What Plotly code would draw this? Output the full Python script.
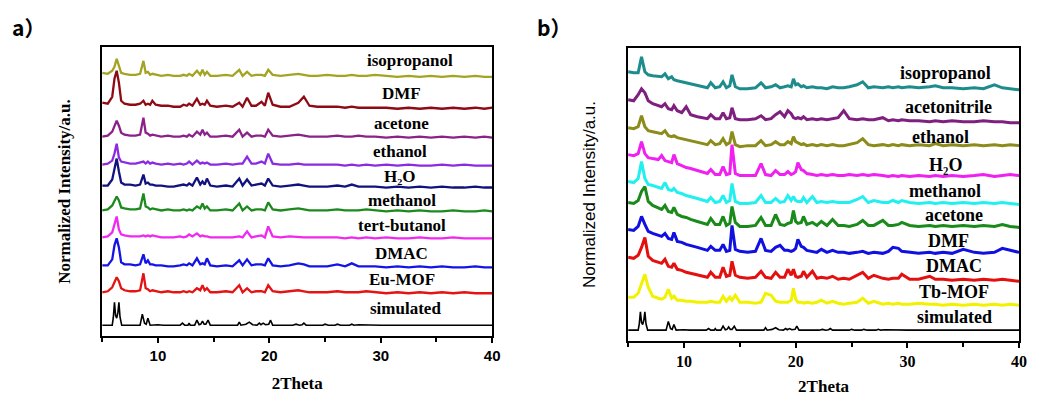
import plotly.graph_objects as go

# ---------------- DATA ----------------
# Panel a: common 2-theta grid and intensities (relative to each trace's stacking offset)
A_X = [5.0, 5.5, 5.9, 6.1, 6.3, 6.5, 6.7, 7.0, 7.5, 8.0,
       8.4, 8.7, 8.9, 9.1, 9.3, 9.5, 9.8, 10.3, 10.9, 11.4,
       12.0, 12.3, 12.6, 12.8, 13.1, 13.5, 13.8, 14.0, 14.2, 14.4,
       14.7, 15.3, 16.1, 16.7, 17.3, 17.6, 18.0, 18.4, 18.8, 19.3,
       19.6, 19.9, 20.3, 21.0, 21.8, 22.6, 23.1, 23.6, 24.3, 25.2,
       26.1, 26.8, 27.4, 28.0, 28.7, 29.5, 30.5, 31.5, 32.5, 33.5,
       34.5, 35.5, 36.5, 37.5, 38.5, 39.3, 40.0]

A_ISOPROPANOL = [4, 3, 6, 10, 18, 10, 4, 3, 2, 2,
                 3, 16, 4, 5, 2, 3, 2, 1, 2, 1,
                 1, 2, 1, 3, 1, 6, 2, 7, 2, 5,
                 1, 1, 2, 1, 7, 1, 5, 1, 2, 2,
                 1, 7, 2, 1, 2, 3, 2, 1, 1, 2,
                 1, 1, 2, 1, 1, 2, 1, 0, 1, 0,
                 1, 0, 1, 0, 1, 0, 0]
A_DMF = [6, 5, 12, 30, 38, 26, 8, 5, 4, 4,
         5, 8, 4, 5, 4, 8, 4, 3, 3, 2,
         2, 4, 3, 5, 3, 10, 4, 5, 4, 8,
         3, 2, 3, 2, 6, 2, 11, 3, 3, 7,
         3, 16, 4, 2, 2, 6, 12, 3, 2, 2,
         2, 1, 2, 1, 1, 1, 1, 0, 1, 0,
         1, 0, 1, 0, 1, 0, 1]
A_ACETONE = [1, 2, 6, 12, 17, 12, 5, 3, 2, 2,
             3, 20, 5, 4, 2, 3, 2, 1, 2, 1,
             1, 2, 1, 3, 1, 6, 3, 8, 3, 5,
             1, 1, 2, 1, 8, 1, 5, 1, 2, 2,
             1, 8, 2, 1, 2, 3, 2, 1, 1, 1,
             2, 1, 1, 2, 1, 1, 0, 1, 0, 1,
             0, 1, 0, 1, 0, 1, 0]
A_ETHANOL = [1, 2, 5, 12, 22, 8, 4, 3, 2, 2,
             3, 4, 2, 4, 2, 3, 2, 1, 2, 1,
             2, 1, 2, 4, 1, 5, 2, 3, 2, 3,
             1, 1, 2, 1, 2, 2, 9, 2, 2, 4,
             2, 12, 2, 1, 1, 2, 1, 1, 1, 1,
             1, 0, 1, 0, 1, 0, 1, 0, 1, 0,
             0, 1, 0, 1, 0, 0, 0]
A_H2O = [2, 2, 8, 20, 29, 16, 5, 3, 3, 2,
         3, 13, 4, 5, 3, 3, 2, 2, 1, 1,
         2, 3, 2, 4, 2, 10, 3, 6, 3, 9,
         2, 1, 2, 1, 9, 2, 8, 2, 3, 4,
         2, 9, 2, 1, 2, 3, 2, 1, 1, 1,
         2, 1, 3, 1, 1, 1, 0, 1, 0, 1,
         0, 1, 0, 0, 1, 0, 0]
A_METHANOL = [1, 2, 6, 11, 15, 11, 4, 3, 2, 2,
              3, 18, 5, 4, 2, 3, 2, 1, 2, 1,
              1, 2, 1, 2, 1, 5, 3, 8, 3, 5,
              1, 1, 2, 1, 8, 1, 5, 1, 2, 2,
              1, 9, 2, 1, 2, 3, 2, 1, 1, 1,
              2, 1, 1, 1, 2, 1, 0, 1, 0, 1,
              0, 0, 1, 0, 0, 1, 0]
A_TERTBUTANOL = [1, 2, 6, 14, 22, 9, 4, 3, 2, 2,
                 2, 3, 2, 3, 2, 3, 2, 1, 1, 1,
                 2, 1, 2, 4, 2, 5, 2, 3, 2, 2,
                 1, 1, 1, 1, 2, 1, 7, 1, 2, 3,
                 1, 12, 2, 1, 2, 1, 1, 1, 1, 1,
                 1, 0, 1, 0, 1, 0, 1, 0, 0, 1,
                 0, 0, 1, 0, 0, 0, 0]
A_DMAC = [2, 2, 8, 22, 29, 20, 5, 3, 3, 2,
          3, 13, 4, 7, 3, 3, 2, 2, 1, 1,
          2, 3, 2, 4, 2, 9, 3, 4, 3, 9,
          2, 1, 2, 1, 7, 2, 8, 2, 3, 3,
          2, 9, 2, 1, 2, 4, 3, 1, 1, 1,
          3, 1, 4, 1, 1, 1, 0, 1, 0, 1,
          0, 1, 0, 0, 1, 0, 0]
A_EUMOF = [1, 2, 6, 12, 16, 12, 5, 3, 2, 2,
           3, 20, 5, 4, 2, 3, 2, 1, 2, 1,
           1, 2, 1, 2, 1, 5, 3, 8, 3, 5,
           1, 1, 2, 1, 8, 1, 5, 1, 2, 2,
           1, 8, 2, 1, 2, 3, 2, 1, 1, 1,
           2, 1, 1, 1, 2, 1, 0, 1, 0, 1,
           0, 1, 0, 1, 0, 0, 0]

# Simulated pattern (shared by both panels)
SIM_X = [5.0, 5.9, 6.0, 6.1, 6.2, 6.3, 6.4, 6.5, 6.6, 6.75,
         8.4, 8.6, 8.8, 8.95, 9.1, 9.3,
         10.0, 10.5,
         12.0, 12.2, 12.4, 12.7, 12.8, 12.9,
         13.3, 13.5, 13.7, 13.85, 14.0, 14.15, 14.3, 14.5, 14.7,
         16.0, 17.15, 17.3, 17.45, 17.9, 18.2, 18.5,
         18.9, 19.1, 19.25, 19.45, 19.65, 19.95, 20.1, 20.3,
         22.1, 22.4, 22.7, 22.95, 23.1, 23.3,
         24.8, 25.0, 25.3, 25.9, 26.1, 26.4, 27.2, 27.4, 27.6, 28.0, 30.0, 40.0]
SIM_Y = [0, 0, 8, 23, 10, 7, 12, 23, 8, 0,
         0, 11, 2, 1, 7, 0,
         0.5, 0,
         0, 2, 0, 0, 2, 0,
         0, 5, 0.5, 1, 4, 1, 1, 5, 0,
         0, 0, 3, 0, 1, 3, 0.5,
         0, 2, 0.5, 2, 0.5, 1, 5, 0,
         0, 1, 0, 0.5, 2, 0,
         0, 1, 0, 0, 1, 0, 0, 1, 0, 0.5, 0, 0]

A_NAMES = ["isopropanol", "DMF", "acetone", "ethanol", "H₂O",
           "methanol", "tert-butanol", "DMAC", "Eu-MOF", "simulated"]
A_OFFSETS = [260, 228, 199, 171, 149, 125, 98, 69, 43, 11]

# Panel b
B_X = [5.0, 5.5, 5.9, 6.2, 6.5, 6.8, 7.2, 7.7, 8.0, 8.3,
       8.6, 8.9, 9.1, 9.4, 9.8, 10.2, 10.6, 11.2, 11.8, 12.1,
       12.4, 12.8, 13.2, 13.5, 13.8, 14.1, 14.3, 14.6, 15.0, 15.7,
       16.4, 16.9, 17.3, 17.8, 18.2, 18.6, 19.0, 19.3, 19.6, 19.8,
       20.0, 20.2, 20.5, 20.7, 21.0, 21.5, 21.9, 22.3, 22.8, 23.3,
       23.8, 24.3, 24.8, 25.5, 26.0, 26.5, 27.0, 27.8, 28.3, 28.7,
       29.2, 29.5, 30.2, 31.0, 32.0, 32.5, 33.2, 34.0, 35.0, 36.0,
       36.8, 37.8, 38.5, 39.2, 40.0]

B_ISOPROPANOL = [18, 17, 17, 33, 18, 15, 14, 13, 13, 16,
                 11, 13, 10, 9, 8, 7, 6, 4, 3, 2,
                 7, 2, 3, 8, 2, 4, 15, 3, 1, 1,
                 2, 7, 2, 3, 5, 2, 3, 4, 3, 11,
                 5, 6, 3, 4, 2, 3, 2, 2, 1, 3,
                 2, 2, 3, 5, 8, 2, 3, 2, 3, 2,
                 3, 2, 3, 2, 3, 4, 2, 2, 1, 2,
                 1, 5, 2, 1, 0]
B_ACETONITRILE = [23, 22, 28, 34, 30, 22, 19, 17, 16, 19,
                  14, 13, 17, 12, 10, 16, 8, 6, 5, 4,
                  8, 4, 4, 10, 4, 5, 15, 4, 3, 3,
                  4, 7, 3, 4, 8, 11, 6, 12, 9, 5,
                  4, 5, 4, 6, 3, 4, 3, 4, 3, 4,
                  5, 12, 4, 3, 4, 3, 3, 5, 2, 3,
                  2, 3, 2, 2, 1, 2, 1, 2, 1, 1,
                  2, 1, 1, 0, 0]
B_ETHANOL = [19, 18, 20, 31, 20, 16, 15, 14, 13, 16,
             11, 10, 11, 9, 8, 7, 6, 4, 3, 2,
             6, 2, 3, 8, 2, 4, 15, 2, 0, 1,
             1, 6, 1, 2, 5, 2, 2, 5, 3, 10,
             5, 4, 2, 3, 1, 2, 1, 2, 1, 2,
             1, 1, 2, 4, 8, 2, 1, 2, 1, 2,
             1, 2, 1, 2, 1, 3, 1, 2, 1, 2,
             1, 2, 1, 2, 1]
B_H2O = [23, 22, 24, 36, 24, 20, 19, 18, 22, 17,
         16, 15, 23, 14, 12, 10, 9, 7, 5, 4,
         8, 3, 3, 11, 3, 4, 33, 4, 2, 2,
         2, 14, 3, 2, 7, 3, 3, 6, 3, 4,
         6, 15, 8, 7, 4, 3, 2, 3, 2, 3,
         2, 2, 3, 2, 3, 2, 3, 2, 1, 2,
         1, 2, 1, 2, 1, 2, 1, 2, 1, 2,
         3, 1, 2, 3, 2]
B_METHANOL = [23, 22, 26, 43, 26, 20, 19, 17, 16, 22,
              15, 14, 16, 12, 11, 9, 8, 6, 4, 3,
              7, 2, 3, 9, 2, 4, 21, 3, 1, 1,
              2, 9, 2, 2, 6, 2, 3, 9, 4, 8,
              4, 3, 3, 7, 2, 8, 2, 3, 2, 3,
              2, 2, 2, 5, 8, 2, 4, 2, 2, 4,
              2, 4, 2, 1, 2, 1, 2, 1, 2, 1,
              2, 1, 2, 1, 0]
B_ACETONE = [25, 24, 27, 36, 41, 26, 22, 19, 18, 22,
             16, 15, 20, 13, 11, 10, 8, 6, 4, 3,
             9, 3, 3, 11, 2, 4, 21, 5, 1, 1,
             2, 10, 2, 2, 13, 3, 2, 4, 5, 17,
             6, 4, 5, 11, 3, 5, 2, 6, 2, 8,
             2, 2, 1, 3, 7, 2, 2, 7, 2, 2,
             3, 5, 2, 1, 2, 1, 2, 1, 2, 1,
             2, 1, 3, 1, 0]
B_DMF = [25, 24, 28, 38, 30, 23, 21, 19, 18, 21,
         16, 15, 22, 13, 12, 10, 9, 7, 5, 4,
         8, 4, 4, 10, 3, 4, 29, 5, 3, 2,
         3, 16, 4, 3, 7, 9, 4, 4, 3, 4,
         6, 15, 8, 7, 4, 3, 2, 5, 2, 4,
         2, 2, 1, 2, 3, 1, 2, 1, 3, 7,
         6, 3, 2, 1, 2, 1, 2, 1, 5, 2,
         1, 2, 6, 4, 2]
B_DMAC = [24, 23, 26, 34, 44, 25, 21, 19, 18, 22,
          15, 14, 18, 12, 11, 9, 8, 6, 5, 4,
          9, 4, 4, 14, 5, 6, 20, 6, 4, 3,
          4, 10, 4, 3, 9, 4, 4, 12, 6, 12,
          5, 4, 5, 10, 4, 10, 3, 4, 3, 5,
          2, 3, 2, 6, 9, 3, 6, 3, 2, 3,
          3, 7, 2, 2, 5, 2, 2, 1, 2, 1,
          2, 1, 2, 1, 0]
B_TBMOF = [8, 8, 12, 22, 31, 18, 9, 7, 6, 8,
           16, 7, 9, 5, 5, 4, 4, 3, 3, 3,
           4, 3, 3, 9, 4, 8, 5, 10, 3, 3,
           2, 3, 12, 10, 4, 3, 3, 3, 5, 17,
           6, 3, 3, 2, 3, 2, 3, 5, 2, 4,
           2, 1, 2, 3, 7, 2, 4, 1, 2, 1,
           2, 1, 1, 2, 1, 1, 0, 1, 0, 1,
           0, 1, 0, 1, 0]

B_NAMES = ["isopropanol", "acetonitrile", "ethanol", "H₂O", "methanol",
           "acetone", "DMF", "DMAC", "Tb-MOF", "simulated"]
B_OFFSETS = [252, 219, 195, 164, 137, 114, 87, 60, 36, 11]

X_TICKS = [10, 20, 30, 40]
X_MINOR = [5, 15, 25, 35]

# ---------------- STYLE / LAYOUT ----------------
W, H = 1037, 396
A_COLORS = ["#A3A324", "#8E0A14", "#8A228A", "#8A2BE2", "#12127E",
            "#1C8A1C", "#F028F0", "#1414E6", "#E41414", "#000000"]
B_COLORS = ["#1E8C8C", "#7F1F7F", "#8C8C1A", "#F020F0", "#22F0F0",
            "#1A8A1A", "#1010E0", "#E41010", "#F2F200", "#000000"]
A_SERIES = [A_ISOPROPANOL, A_DMF, A_ACETONE, A_ETHANOL, A_H2O,
            A_METHANOL, A_TERTBUTANOL, A_DMAC, A_EUMOF]
B_SERIES = [B_ISOPROPANOL, B_ACETONITRILE, B_ETHANOL, B_H2O, B_METHANOL,
            B_ACETONE, B_DMF, B_DMAC, B_TBMOF]

# label anchor positions (data coordinates) for each panel
A_LABEL_X = [32.6, 31.9, 31.9, 31.7, 31.7, 31.9, 31.9, 31.9, 31.9, 32.2]
A_LABEL_Y = [276, 243, 213, 185, 160, 136, 111, 83, 57, 28]
B_LABEL_X = [33.4, 33.7, 33.0, 33.4, 33.4, 34.2, 33.7, 34.2, 34.2, 34.2]
B_LABEL_Y = [269, 235, 205, 177, 151, 126, 100, 75, 49, 24]

fig = go.Figure()

for i, ys in enumerate(A_SERIES):
    fig.add_trace(go.Scatter(x=A_X, y=[v + A_OFFSETS[i] for v in ys], mode="lines",
                             line=dict(color=A_COLORS[i], width=2.3), xaxis="x", yaxis="y",
                             hoverinfo="skip"))
fig.add_trace(go.Scatter(x=SIM_X, y=[v + A_OFFSETS[9] for v in SIM_Y], mode="lines",
                         line=dict(color="#000000", width=1.6), xaxis="x", yaxis="y"))

for i, ys in enumerate(B_SERIES):
    fig.add_trace(go.Scatter(x=B_X, y=[v + B_OFFSETS[i] for v in ys], mode="lines",
                             line=dict(color=B_COLORS[i], width=3), xaxis="x2", yaxis="y2",
                             hoverinfo="skip"))
fig.add_trace(go.Scatter(x=SIM_X, y=[0.8 * v + B_OFFSETS[9] for v in SIM_Y], mode="lines",
                         line=dict(color="#000000", width=1.6), xaxis="x2", yaxis="y2"))

serif = "Liberation Serif, Times New Roman, serif"
sans = "Liberation Sans, Arial, sans-serif"

common_x = dict(range=[5, 40], showline=True, mirror=True, linecolor="black", linewidth=2,
                ticks="outside", ticklen=5, tickwidth=1.5, tickcolor="black",
                tickvals=X_TICKS, showgrid=False, zeroline=False,
                minor=dict(tickvals=X_MINOR, ticks="outside", ticklen=4, tickwidth=1.5,
                           tickcolor="black", showgrid=False))
common_y = dict(showline=True, mirror=True, linecolor="black", linewidth=2,
                ticks="", showticklabels=False, showgrid=False, zeroline=False)

fig.update_layout(
    width=W, height=H, margin=dict(l=0, r=0, t=0, b=0),
    paper_bgcolor="white", plot_bgcolor="white", showlegend=False,
    xaxis=dict(common_x, domain=[103 / W, 496 / W], anchor="y",
               tickfont=dict(family=sans, size=15, color="black", weight="bold"),
               title=dict(text="<b>2Theta</b>", standoff=14,
                          font=dict(family=serif, size=17, color="black"))),
    yaxis=dict(common_y, domain=[1 - 337 / H, 1 - 47 / H], range=[0, 290], anchor="x",
               title=dict(text="<b>Normalized Intensity/a.u.</b>", standoff=25,
                          font=dict(family=serif, size=17, color="black"))),
    xaxis2=dict(common_x, domain=[633 / W, 1027 / W], anchor="y2",
                tickfont=dict(family=serif, size=16, color="black", weight="bold"),
                title=dict(text="<b>2Theta</b>", standoff=14,
                           font=dict(family=serif, size=17, color="black"))),
    yaxis2=dict(common_y, domain=[1 - 342 / H, 1 - 48 / H], range=[0, 294], anchor="x2",
                title=dict(text="Normalized Intensity/a.u.", standoff=26,
                           font=dict(family=sans, size=17, color="black"))),
)

ann = []
for i, name in enumerate(A_NAMES):
    ann.append(dict(x=A_LABEL_X[i], y=A_LABEL_Y[i], xref="x", yref="y", text="<b>" + name + "</b>",
                    showarrow=False, font=dict(family=serif, size=17, color="black"),
                    xanchor="center", yanchor="middle"))
for i, name in enumerate(B_NAMES):
    ann.append(dict(x=B_LABEL_X[i], y=B_LABEL_Y[i], xref="x2", yref="y2", text="<b>" + name + "</b>",
                    showarrow=False, font=dict(family=serif, size=18, color="black"),
                    xanchor="center", yanchor="middle"))

# panel letters
ann += [
    dict(x=10 / W, y=1 - 27 / H, xref="paper", yref="paper", text="<b>a）</b>", showarrow=False,
         font=dict(family="Noto Sans CJK SC", size=21, color="black"), xanchor="left", yanchor="middle"),
    dict(x=539 / W, y=1 - 27 / H, xref="paper", yref="paper", text="<b>b）</b>", showarrow=False,
         font=dict(family="Noto Sans CJK SC", size=21, color="black"), xanchor="left", yanchor="middle"),
]
fig.update_layout(annotations=ann)

fig.write_html("out.html")
